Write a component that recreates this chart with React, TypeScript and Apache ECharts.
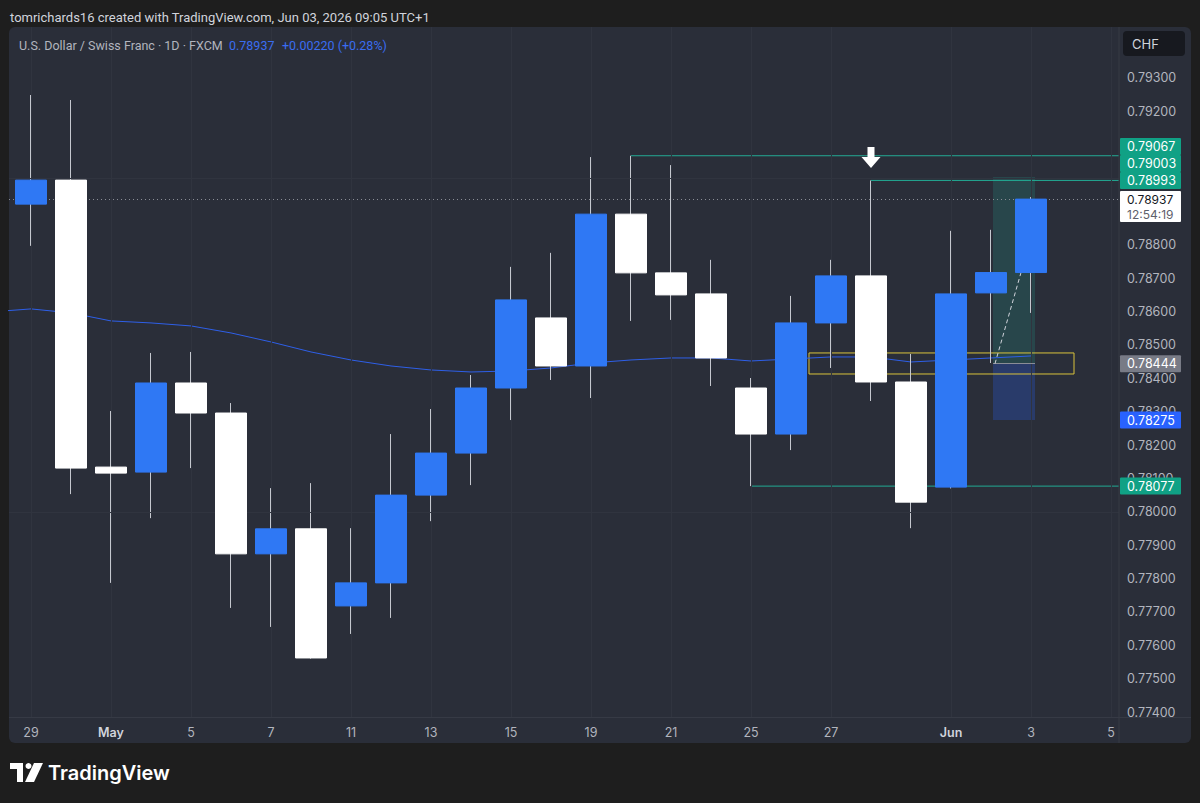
import React, { useEffect, useRef } from "react";
import * as echarts from "echarts";

// ---- DATA ----
const dates = [
  "Apr 29", "Apr 30", "May 1", "May 4", "May 5", "May 6", "May 7", "May 8",
  "May 11", "May 12", "May 13", "May 14", "May 15", "May 18", "May 19", "May 20",
  "May 21", "May 22", "May 25", "May 26", "May 27", "May 28", "May 29", "Jun 1",
  "Jun 2", "Jun 3",
];
const openP = [
  0.78922, 0.78994, 0.78134, 0.78119, 0.78386, 0.78296, 0.77874, 0.77949,
  0.77718, 0.77787, 0.7805, 0.78176, 0.78371, 0.78581, 0.78437, 0.78892,
  0.78716, 0.78653, 0.78371, 0.78233, 0.78566, 0.78707, 0.78389, 0.78074,
  0.78656, 0.78717,
];
const closeP = [
  0.78994, 0.78131, 0.78116, 0.78386, 0.78296, 0.77874, 0.77949, 0.77562,
  0.77787, 0.7805, 0.78176, 0.78371, 0.78635, 0.78437, 0.78892, 0.78716,
  0.7865, 0.78461, 0.78233, 0.78566, 0.78707, 0.78389, 0.78029, 0.78653,
  0.78717, 0.78937,
];
const highP = [
  0.79249, 0.79234, 0.78302, 0.78476, 0.78479, 0.78326, 0.78071, 0.78086,
  0.77951, 0.78233, 0.78308, 0.7841, 0.78734, 0.78776, 0.79063, 0.79067,
  0.79039, 0.78755, 0.78401, 0.78647, 0.78755, 0.78993, 0.78473, 0.78842,
  0.78845, 0.78943,
];
const lowP = [
  0.78797, 0.78053, 0.77787, 0.77981, 0.78131, 0.77712, 0.77655, 0.7756,
  0.77634, 0.77682, 0.77972, 0.7808, 0.78275, 0.78395, 0.78341, 0.78572,
  0.78575, 0.78377, 0.78077, 0.78185, 0.78431, 0.78332, 0.77951, 0.7807,
  0.78446, 0.78596,
];
// moving average, first value belongs to the bar before Apr 29
const maStart = -1;
const maValues = [
  0.78599, 0.78608, 0.78596, 0.78572, 0.78566, 0.78557, 0.78536, 0.78509,
  0.78479, 0.78455, 0.78437, 0.78425, 0.78419, 0.78422, 0.78431, 0.78446,
  0.78455, 0.78461, 0.78461, 0.78452, 0.78458, 0.78464, 0.78464, 0.78449,
  0.78455, 0.78461, 0.78467,
];
const axisDates = [...dates, "Jun 4", "Jun 5"];
const timeTickIdx = [0, 2, 4, 6, 8, 10, 12, 14, 16, 18, 20, 23, 25, 27];
const timeTickLabels = ["29", "May", "5", "7", "11", "13", "15", "19", "21", "25", "27", "Jun", "3", "5"];
const boldTicks = ["May", "Jun"];
const priceTicks = [
  0.774, 0.775, 0.776, 0.777, 0.778, 0.779, 0.78, 0.781, 0.782, 0.783,
  0.784, 0.785, 0.786, 0.787, 0.788, 0.789, 0.79, 0.791, 0.792, 0.793,
];
// 0.789 sits completely under the current-price box, so its label is not shown
const hiddenPriceLabels = [0.789];
const lastPrice = 0.78937;
const changeText = "+0.00220 (+0.28%)";
const countdown = "12:54:19";
// horizontal rays: start bar index and price
const rayStart = [15, 21, 18];
const rayPrice = [0.79067, 0.78993, 0.78077];
// position tool
const posTarget = 0.79003;
const posEntry = 0.78444;
const posStop = 0.78275;
const posFrom = 24.05;
const posTo = 25.1;
// zone rectangle
const zoneTop = 0.78476;
const zoneBottom = 0.78413;
const zoneFrom = 19.45;
const zoneTo = 26.075;
const arrowBar = 21;
const arrowPrice = 0.79062;

const X_MIN = -0.55;
const X_MAX = 27.2;
const Y_MIN = 0.773851;
const Y_MAX = 0.794528;

const BLUE = "#2f78f4";
const WICK = "#c5c8cf";
const TEAL = "#22ab94";
const TEAL_BG = "#10a185";
const FONT = "Inter, 'Noto Sans', sans-serif";
const HFONT = "Roboto, 'Noto Sans', sans-serif";
const AXIS_TXT = "#b2b5be";

export default function App() {
  const ref = useRef<HTMLDivElement>(null);
  useEffect(() => {
    if (!ref.current) return;
    const chart = echarts.init(ref.current, undefined, { renderer: "svg" });

    const candleData = dates.map((_, i) => [i, openP[i], closeP[i], lowP[i], highP[i]]);
    const bodyData = dates.map((_, i) => [
      i, openP[i], closeP[i], Math.min(openP[i], closeP[i]), Math.max(openP[i], closeP[i]),
    ]);
    const maData = maValues.map((v, k) => [maStart + k, v]);
    const priceLabelValues = priceTicks.filter((p) => !hiddenPriceLabels.includes(p));

    const txt = (x: number, y: number, text: string, fill: string, font: string, z = 100) => ({
      type: "text", z, silent: true,
      style: { x, y, text, fill, font, textAlign: "left", align: "left", textVerticalAlign: "middle", verticalAlign: "middle" },
    });

    const bgGraphics: any[] = [
      {
        type: "rect", z: -10, silent: true,
        shape: { x: 9, y: 27, width: 1182, height: 716, r: 6 },
        style: { fill: "#2a2e39" },
      },
      { type: "line", z: 100, silent: true, shape: { x1: 1119, y1: 27, x2: 1119, y2: 743 }, style: { stroke: "#363a45", lineWidth: 1 } },
      { type: "line", z: 100, silent: true, shape: { x1: 9, y1: 717.5, x2: 1191, y2: 717.5 }, style: { stroke: "#363a45", lineWidth: 1 } },
      txt(10, 17, "tomrichards16 created with TradingView.com, Jun 03, 2026 09:05 UTC+1", "#d1d4dc", `13px ${HFONT}`),
      txt(19, 45, "U.S. Dollar / Swiss Franc · 1D · FXCM", "#b2b5be", `12.5px ${HFONT}`),
      txt(229, 45, lastPrice.toFixed(5), "#3a6df0", `12.5px ${HFONT}`),
      txt(282, 45, changeText, "#3a6df0", `12.5px ${HFONT}`),
      {
        type: "rect", z: 100, silent: true,
        shape: { x: 1123, y: 31, width: 62, height: 25, r: 4 },
        style: { fill: "#17191f" },
      },
      txt(1132, 44, "CHF", "#d1d4dc", `13px ${FONT}`, 101),
      // TradingView logo
      { type: "rect", z: 100, silent: true, shape: { x: 10, y: 763, width: 13, height: 6 }, style: { fill: "#ffffff" } },
      { type: "rect", z: 100, silent: true, shape: { x: 17, y: 763, width: 6, height: 19 }, style: { fill: "#ffffff" } },
      { type: "circle", z: 100, silent: true, shape: { cx: 28.5, cy: 766, r: 3 }, style: { fill: "#ffffff" } },
      { type: "polygon", z: 100, silent: true, shape: { points: [[34, 763], [43, 763], [34, 782], [25, 782]] }, style: { fill: "#ffffff" } },
      txt(48, 773, "TradingView", "#ffffff", `600 20px ${FONT}`),
    ];

    const raySeries = rayPrice.map((p, k) => ({
      name: `ray${k}`,
      type: "line",
      data: [[rayStart[k], p], [X_MAX, p]],
      z: 2,
      symbol: "none",
      silent: true,
      clip: true,
      lineStyle: { color: TEAL, width: 1, type: "solid" },
    }));

    const option: any = {
      animation: false,
      backgroundColor: "#1e1e1e",
      grid: { left: 9, right: 81, top: 27, bottom: 86, containLabel: false },
      xAxis: {
        type: "value",
        min: X_MIN,
        max: X_MAX,
        axisLine: { show: false },
        axisTick: { show: false },
        splitLine: { show: false },
        axisLabel: {
          customValues: timeTickIdx,
          margin: 9,
          color: AXIS_TXT,
          fontSize: 12.5,
          fontFamily: FONT,
          formatter: (v: number) => {
            const k = timeTickIdx.indexOf(Math.round(v));
            if (k < 0) return "";
            const t = timeTickLabels[k];
            return boldTicks.includes(t) ? `{b|${t}}` : t;
          },
          rich: { b: { fontWeight: 600, color: "#d1d4dc", fontSize: 12.5, fontFamily: FONT } },
        },
      },
      yAxis: {
        type: "value",
        position: "right",
        scale: true,
        min: Y_MIN,
        max: Y_MAX,
        axisLine: { show: false },
        axisTick: { show: false },
        splitLine: { show: false },
        axisLabel: {
          customValues: priceLabelValues,
          margin: 8,
          color: AXIS_TXT,
          fontSize: 12.5,
          fontFamily: FONT,
          formatter: (v: number) => v.toFixed(5),
        },
      },
      series: [
        {
          name: "grid",
          type: "line",
          data: [],
          z: 1,
          silent: true,
          markLine: {
            silent: true,
            symbol: ["none", "none"],
            label: { show: false },
            lineStyle: { color: "#30343f", width: 1, type: "solid" },
            emphasis: { disabled: true },
            data: [
              ...timeTickIdx.map((i) => ({ xAxis: i })),
              ...priceTicks.map((p) => ({ yAxis: p })),
            ],
          },
        },
        {
          name: "zones",
          type: "line",
          data: [],
          z: 2,
          silent: true,
          markArea: {
            silent: true,
            label: { show: false },
            emphasis: { disabled: true },
            data: [
              [
                { coord: [posFrom, posTarget], itemStyle: { color: "rgba(34,171,148,0.2)" } },
                { coord: [posTo, posEntry] },
              ],
              [
                { coord: [posFrom, posEntry], itemStyle: { color: "rgba(41,98,255,0.25)" } },
                { coord: [posTo, posStop] },
              ],
              [
                { coord: [zoneFrom, zoneTop], itemStyle: { color: "rgba(0,0,0,0)", borderColor: "#d9c23c", borderWidth: 1 } },
                { coord: [zoneTo, zoneBottom] },
              ],
            ],
          },
        },
        ...raySeries,
        {
          name: "annotations",
          type: "line",
          data: [],
          z: 2,
          silent: true,
          markLine: {
            silent: true,
            symbol: ["none", "none"],
            label: { show: false },
            emphasis: { disabled: true },
            lineStyle: { color: "#8a8d96", width: 1, type: "solid" },
            data: [
              [
                { coord: [X_MIN, lastPrice], lineStyle: { color: "#8a8d96", width: 1, type: [1, 3] } },
                { coord: [X_MAX, lastPrice] },
              ],
              [
                { coord: [posFrom, posEntry], lineStyle: { color: "#8a8d96", width: 1, type: "solid" } },
                { coord: [posTo, posEntry] },
              ],
              [
                { coord: [posFrom + 0.05, posEntry], lineStyle: { color: "#d1d4dc", width: 1, type: [4, 3] } },
                { coord: [24.75, openP[25]] },
              ],
            ],
          },
        },
        {
          name: "MA",
          type: "line",
          data: maData,
          z: 3,
          symbol: "none",
          clip: true,
          lineStyle: { color: "#2e5fe8", width: 1 },
          silent: true,
        },
        {
          name: "wicks",
          type: "candlestick",
          data: candleData,
          encode: { x: 0, y: [1, 2, 3, 4] },
          z: 4,
          barWidth: 1,
          silent: true,
          itemStyle: { color: WICK, color0: WICK, borderColor: WICK, borderColor0: WICK, borderWidth: 1 },
        },
        {
          name: "USDCHF",
          type: "candlestick",
          data: bodyData,
          encode: { x: 0, y: [1, 2, 3, 4] },
          z: 5,
          barWidth: 32,
          silent: true,
          itemStyle: { color: BLUE, color0: "#ffffff", borderColor: BLUE, borderColor0: "#ffffff", borderWidth: 1 },
          markPoint: {
            silent: true,
            symbol: "path://M6,0 L13,0 L13,10 L19,10 L9.5,21 L0,10 L6,10 Z",
            symbolSize: [19, 21],
            itemStyle: { color: "#ffffff" },
            label: { show: false },
            data: [{ coord: [arrowBar, arrowPrice] }],
          },
        },
      ],
      graphic: { elements: bgGraphics },
    };
    chart.setOption(option);

    // price labels on the right axis, stacked from bottom to top like TradingView
    const toY = (p: number) => (chart.convertToPixel({ gridIndex: 0 }, [0, p]) as number[])[1];
    type Lab = { p: number; bg: string; h: number; cur?: boolean; top?: number };
    const labs: Lab[] = [
      { p: rayPrice[0], bg: TEAL_BG, h: 17 },
      { p: posTarget, bg: TEAL_BG, h: 17 },
      { p: rayPrice[1], bg: TEAL_BG, h: 17 },
      { p: lastPrice, bg: "#ffffff", h: 31, cur: true },
      { p: posEntry, bg: "#787b86", h: 17 },
      { p: posStop, bg: "#2962ff", h: 17 },
      { p: rayPrice[2], bg: TEAL_BG, h: 17 },
    ];
    const sorted = [...labs].sort((a, b) => toY(b.p) - toY(a.p));
    let prevTop = Infinity;
    for (const l of sorted) {
      const yc = toY(l.p);
      let top = l.cur ? yc - 8 : yc - l.h / 2;
      if (top + l.h > prevTop) top = prevTop - l.h;
      l.top = top;
      prevTop = top;
    }
    const labGraphics: any[] = [];
    for (const l of labs) {
      const top = l.top as number;
      labGraphics.push({
        type: "rect", z: 200, silent: true,
        shape: { x: 1120, y: top, width: 61, height: l.h, r: 1 },
        style: { fill: l.bg },
      });
      if (l.cur) {
        labGraphics.push(txt(1127, top + 8, l.p.toFixed(5), "#131722", `12px ${FONT}`, 201));
        labGraphics.push(txt(1127, top + 23, countdown, "#5d606b", `12px ${FONT}`, 201));
      } else {
        labGraphics.push(txt(1127, top + l.h / 2, l.p.toFixed(5), "#ffffff", `12.5px ${FONT}`, 201));
      }
    }
    chart.setOption({ graphic: { elements: [...bgGraphics, ...labGraphics] } });

    return () => chart.dispose();
  }, []);

  return (
    <div
      ref={ref}
      style={{ position: "fixed", left: 0, top: 0, width: 1200, height: 803 }}
      data-dates={axisDates.length}
    />
  );
}
